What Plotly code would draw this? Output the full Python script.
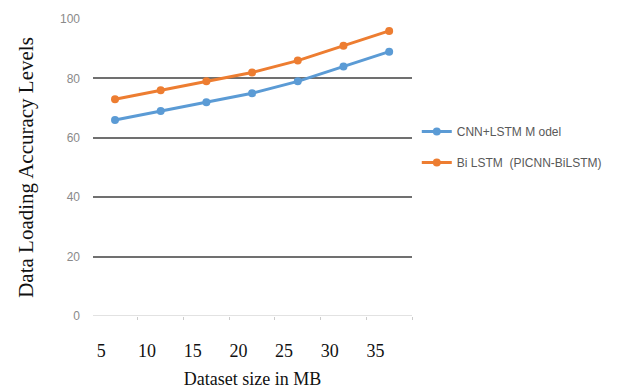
import plotly.graph_objects as go

sizes_mb = [6.5, 11.5, 16.5, 21.5, 26.5, 31.5, 36.5]
cnn_lstm = [66, 69, 72, 75, 79, 84, 89]
bilstm = [73, 76, 79, 82, 86, 91, 96]
x_ticks = [5, 10, 15, 20, 25, 30, 35]
y_ticks = [0, 20, 40, 60, 80, 100]

fig = go.Figure()
fig.add_trace(go.Scatter(x=sizes_mb, y=cnn_lstm, mode="lines+markers", name="CNN+LSTM M odel",
                         legendgroup="g1",
                         line=dict(color="#5B9BD5", width=3), marker=dict(size=8, color="#5B9BD5")))
fig.add_trace(go.Scatter(x=sizes_mb, y=bilstm, mode="lines+markers", name="Bi LSTM  (PICNN-BiLSTM)",
                         legendgroup="g2",
                         line=dict(color="#ED7D31", width=3), marker=dict(size=8, color="#ED7D31")))

serif = "Liberation Serif, Times New Roman, serif"
fig.update_layout(
    width=632, height=392,
    margin=dict(l=93, r=220, t=19, b=76),
    paper_bgcolor="white", plot_bgcolor="white",
    showlegend=True,
    legend=dict(x=1.015, y=0.67, xanchor="left", yanchor="top",
                font=dict(family="Liberation Sans Narrow, Arial Narrow, sans-serif", size=12, color="#595959"),
                tracegroupgap=12),
    xaxis=dict(range=[4.09, 39.0], tickvals=x_ticks, ticktext=[str(v) for v in x_ticks],
               showgrid=False, zeroline=False, showline=False, ticks="", automargin=False,
               ticklabelstandoff=22,
               tickfont=dict(family=serif, size=18, color="#111111"),
               title=dict(text="Dataset size in MB", standoff=12,
                          font=dict(family=serif, size=18, color="#111111")),
               minor=dict(tick0=4, dtick=5, ticks="outside", ticklen=3, tickcolor="#cccccc", showgrid=False)),
    yaxis=dict(range=[0, 100], tickvals=y_ticks, showgrid=True, gridcolor="#707070", gridwidth=2,
               zeroline=False, showline=False, ticks="", ticklabelstandoff=12, automargin=False,
               tickfont=dict(family="Liberation Sans Narrow, Arial Narrow, sans-serif", size=12, color="#8a8a8a"),
               title=dict(text="Data Loading Accuracy Levels", standoff=20,
                          font=dict(family=serif, size=21, color="#111111"))),
)
fig.add_shape(type="line", xref="paper", yref="y", x0=0, x1=1, y0=0, y1=0,
              line=dict(color="#d9d9d9", width=1.5))
fig.write_html("out.html")
